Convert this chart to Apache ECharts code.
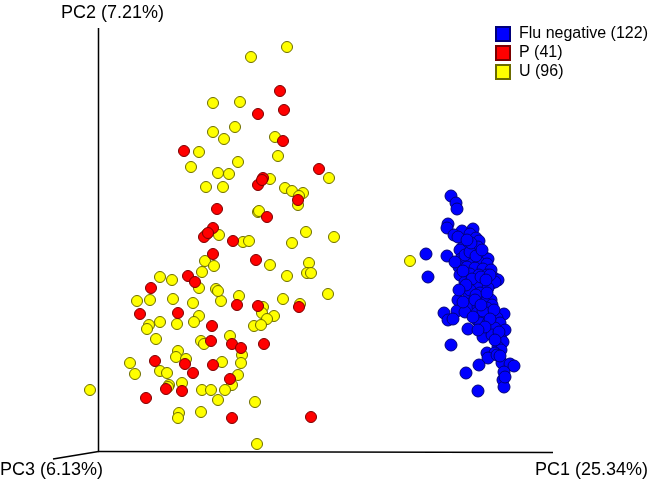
<!DOCTYPE html>
<html>
<head>
<meta charset="utf-8">
<script src="https://cdn.jsdelivr.net/npm/echarts@6/dist/echarts.min.js"></script>
<style>html,body{margin:0;padding:0;background:#fff;}#c{width:652px;height:489px;}</style>
</head>
<body>
<div id="c"></div>
<script>
// Series names (legend labels)
const seriesNames = ['Flu negative (122)', 'P (41)', 'U (96)'];
// Axis titles
const axisTitles = ['PC1 (25.34%)', 'PC2 (7.21%)', 'PC3 (6.13%)'];

// Projected PCoA coordinates (screen-projection units)
const fluNegative = [
[451,196],[456,203],[457,209],[448,224],[447,228],[462,231],[454,235],[458,237],[473,229],[470,234],
[476,238],[479,241],[478,247],[462,248],[460,250],[426,254],[447,256],[461,259],[484,257],[488,259],
[472,263],[480,263],[487,264],[459,267],[467,267],[475,268],[483,269],[491,270],[428,277],[460,275],
[470,274],[479,275],[487,275],[494,278],[498,280],[465,282],[475,281],[483,282],[492,283],[495,282],
[468,287],[477,287],[488,288],[469,295],[480,293],[482,298],[491,300],[458,300],[473,302],[485,303],
[492,305],[468,307],[478,307],[487,308],[444,313],[457,311],[465,312],[477,313],[490,313],[504,314],
[448,320],[453,319],[477,320],[483,318],[497,318],[480,323],[488,323],[500,323],[468,329],[487,329],
[495,328],[505,330],[483,337],[492,335],[501,339],[503,342],[451,345],[498,347],[501,350],[487,353],
[495,353],[488,358],[497,355],[502,363],[510,364],[514,366],[479,365],[504,372],[466,373],[503,380],
[504,387],[478,391],
[465,255],[470,252],[476,256],[455,262],[463,271],[472,279],[481,277],[490,275],[486,280],[470,290],
[476,295],[487,293],[463,302],[483,311],[494,310],[473,317],[490,319],[485,327],[499,332],[478,330],
[471,243],[467,240],[482,250],[466,285],[459,290],[475,300],[481,305],[495,340],[500,356],[505,377]
];
const groupP = [
[258,114],[280,91],[284,110],[184,151],[283,141],[263,178],[258,185],[319,169],[217,209],[213,228],
[204,237],[233,241],[213,254],[256,260],[188,276],[195,282],[151,288],[237,305],[258,306],[267,217],
[298,200],[299,307],[140,314],[178,313],[212,326],[211,341],[232,344],[241,348],[155,361],[185,364],
[213,365],[193,373],[230,379],[166,389],[182,391],[146,398],[232,418],[264,344],[311,417],[208,233],
[262,180]
];
const groupU = [
[287,47],[251,57],[213,103],[240,102],[235,127],[213,132],[224,139],[199,152],[191,167],[238,162],
[218,173],[229,174],[275,137],[278,156],[270,179],[329,178],[206,187],[223,187],[258,212],[207,234],
[219,235],[243,242],[249,241],[205,261],[214,266],[202,272],[160,277],[172,280],[199,288],[216,289],
[137,301],[150,300],[173,299],[193,303],[221,301],[239,296],[285,188],[292,191],[303,193],[299,196],
[298,205],[259,211],[306,232],[334,237],[292,243],[270,265],[309,263],[307,273],[311,273],[287,276],
[328,294],[283,299],[300,304],[263,307],[199,316],[194,322],[160,322],[177,324],[149,325],[147,329],
[254,326],[156,339],[230,336],[201,341],[204,344],[178,351],[242,355],[176,357],[186,359],[130,363],
[222,362],[241,363],[135,374],[160,371],[167,373],[238,375],[232,385],[182,383],[169,385],[168,387],
[90,390],[202,390],[211,390],[225,390],[218,400],[255,402],[179,413],[178,418],[201,412],[257,444],
[262,313],[274,316],[267,319],[261,325],[410,261],[218,291]
];

const chart = echarts.init(document.getElementById('c'), null, {renderer: 'canvas'});
const font = '"Liberation Sans", Arial, Helvetica, sans-serif';

function pointSeries(name, data, fill, border, size, z) {
  return {
    name: name, type: 'scatter', data: data, symbol: 'circle', symbolSize: size, z: z,
    itemStyle: {color: fill, borderColor: border, borderWidth: 1, opacity: 1},
    emphasis: {disabled: true}, animation: false
  };
}

chart.setOption({
  backgroundColor: '#ffffff',
  animation: false,
  grid: {left: 0, right: 0, top: 0, bottom: 0},
  xAxis: {type: 'value', min: 0, max: 652, show: false},
  yAxis: {type: 'value', min: 0, max: 489, inverse: true, show: false},
  legend: {
    data: seriesNames, orient: 'vertical', left: 495, top: 26, padding: 0,
    itemWidth: 14, itemHeight: 14, itemGap: 3, icon: 'rect',
    textStyle: {fontFamily: font, fontSize: 16, lineHeight: 14, color: '#000', padding: [0, 0, 0, 4]},
    selectedMode: false
  },
  graphic: [
    {type: 'line', shape: {x1: 98.5, y1: 28, x2: 98.5, y2: 452}, style: {stroke: '#000', lineWidth: 1.5}},
    {type: 'line', shape: {x1: 98, y1: 451.5, x2: 553, y2: 452.5}, style: {stroke: '#000', lineWidth: 1.5}},
    {type: 'line', shape: {x1: 98.5, y1: 451.5, x2: 53, y2: 459}, style: {stroke: '#000', lineWidth: 1.5}},
    {type: 'text', left: 61, top: 4, style: {text: axisTitles[1], font: '18px ' + font, fill: '#000'}},
    {type: 'text', left: 0, top: 461, style: {text: axisTitles[2], font: '18px ' + font, fill: '#000'}},
    {type: 'text', right: 4, top: 461, style: {text: axisTitles[0], font: '18px ' + font, fill: '#000'}}
  ],
  series: [
    pointSeries(seriesNames[2], groupU, '#ffff00', '#6b6b00', 11, 2),
    pointSeries(seriesNames[1], groupP, '#ff0000', '#7a0000', 11, 3),
    pointSeries(seriesNames[0], fluNegative, '#0000ff', '#00007a', 12, 4)
  ]
});
</script>
</body>
</html>
